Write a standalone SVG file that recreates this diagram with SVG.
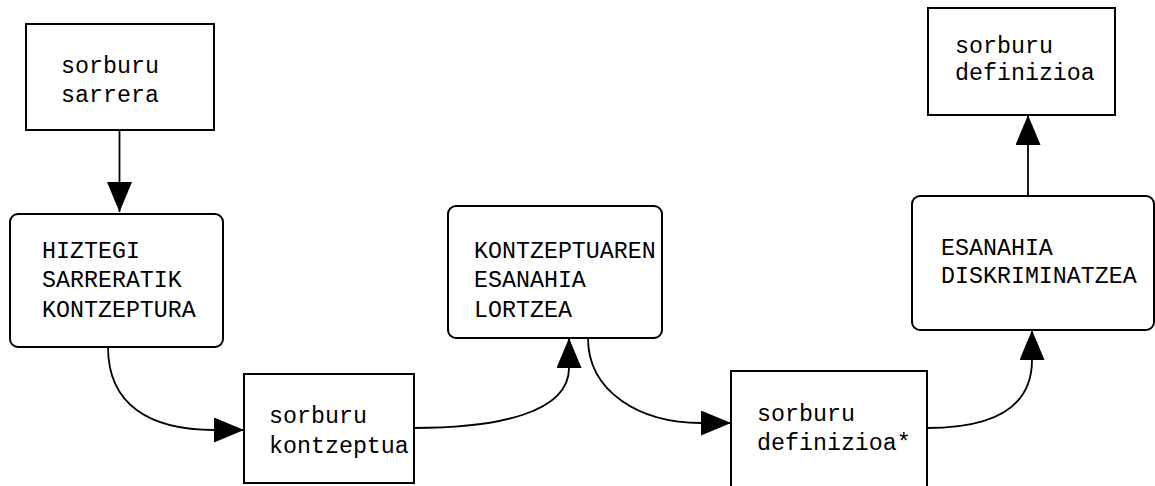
<svg xmlns="http://www.w3.org/2000/svg" width="1155" height="486" viewBox="0 0 1155 486">
<style>
.box{fill:#fff;stroke:#000;stroke-width:2}
.t{font-family:"Liberation Mono","Courier New",monospace;font-size:23.3px;fill:#000}
.c{fill:none;stroke:#000;stroke-width:1.8}
</style>
<defs>
<marker id="ah" markerUnits="userSpaceOnUse" markerWidth="32" markerHeight="26" refX="30" refY="12.5" orient="auto" viewBox="0 0 32 26">
<path d="M0,0 L30,12.5 L0,25 Z" fill="#000"/>
</marker>
</defs>
<rect width="1155" height="486" fill="#fff"/>
<g id="n1">
<rect class="box" x="26" y="24" width="188" height="106"/>
<text class="t" x="61" y="73">sorburu</text>
<text class="t" x="61" y="102">sarrera</text>
</g>
<g id="n2">
<rect class="box" x="10" y="214" width="213" height="133" rx="8"/>
<text class="t" x="42" y="258">HIZTEGI</text>
<text class="t" x="42" y="287">SARRERATIK</text>
<text class="t" x="42" y="317">KONTZEPTURA</text>
</g>
<g id="n3">
<rect class="box" x="244" y="374" width="170" height="109"/>
<text class="t" x="269" y="423">sorburu</text>
<text class="t" x="269" y="453">kontzeptua</text>
</g>
<g id="n4">
<rect class="box" x="448" y="206" width="214" height="132" rx="8"/>
<text class="t" x="474" y="258">KONTZEPTUAREN</text>
<text class="t" x="474" y="287">ESANAHIA</text>
<text class="t" x="474" y="317">LORTZEA</text>
</g>
<g id="n5">
<rect class="box" x="731" y="371" width="196" height="130"/>
<text class="t" x="757" y="421">sorburu</text>
<text class="t" x="757" y="450">definizioa*</text>
</g>
<g id="n6">
<rect class="box" x="912" y="196" width="242" height="134" rx="8"/>
<text class="t" x="941" y="255">ESANAHIA</text>
<text class="t" x="941" y="283">DISKRIMINATZEA</text>
</g>
<g id="n7">
<rect class="box" x="928" y="8" width="187" height="107"/>
<text class="t" x="955" y="53">sorburu</text>
<text class="t" x="955" y="80">definizioa</text>
</g>
<g id="connectors">
<path class="c" d="M119.5,130 L119.5,212" marker-end="url(#ah)"/>
<path class="c" d="M108,347 C108,405 150,430 214,430 L244,430" marker-end="url(#ah)"/>
<path class="c" d="M414,428 C500,428 569,412 569,368 L569,338" marker-end="url(#ah)"/>
<path class="c" d="M588,338 C588,392 640,423 701,423 L731,423" marker-end="url(#ah)"/>
<path class="c" d="M927,428 C990,428 1032,410 1032,360 L1032,330" marker-end="url(#ah)"/>
<path class="c" d="M1028,196 L1028,115" marker-end="url(#ah)"/>
</g>
</svg>
